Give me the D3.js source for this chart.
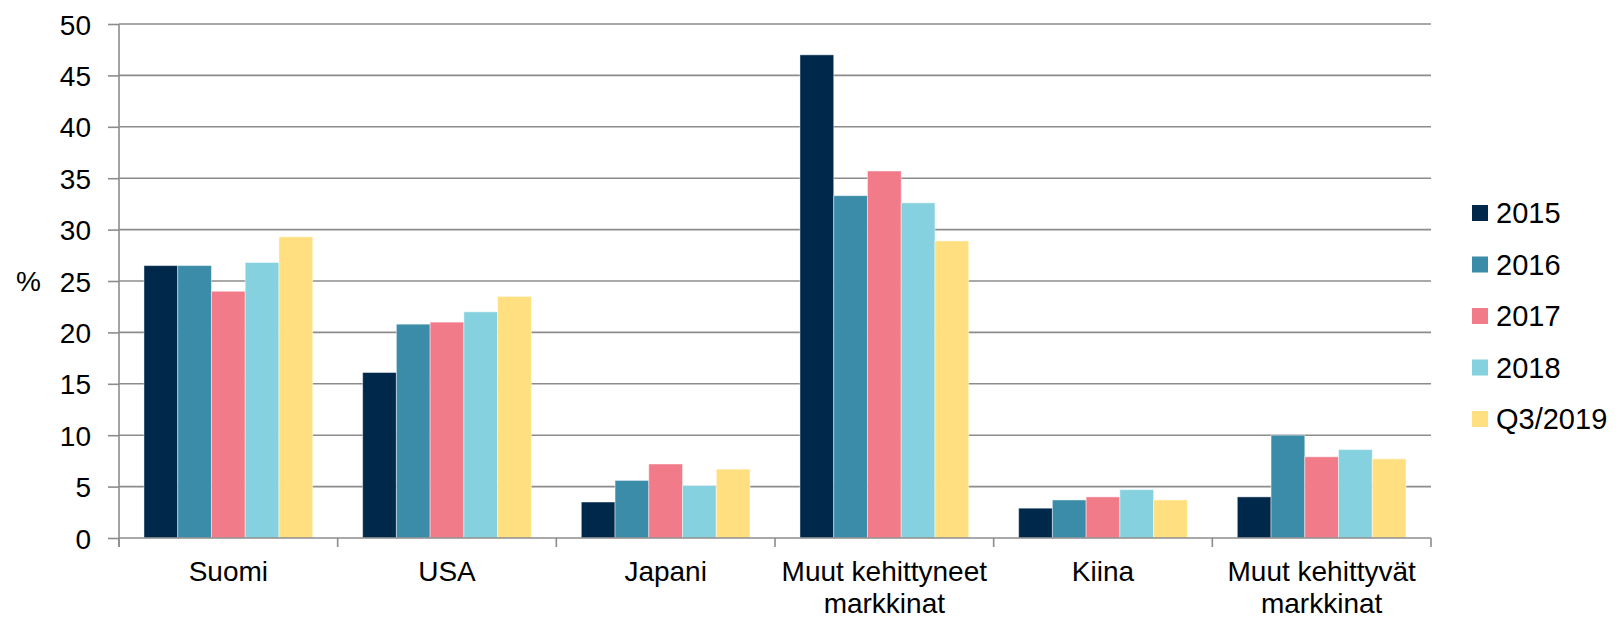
<!DOCTYPE html>
<html>
<head>
<meta charset="utf-8">
<script src="https://cdn.jsdelivr.net/npm/d3@7"></script>
<style>
  html, body { margin: 0; padding: 0; background: #ffffff; }
  svg { display: block; }
  text { font-family: "Liberation Sans", Arial, sans-serif; fill: #000; }
</style>
</head>
<body>
<svg id="chart" width="1622" height="619"></svg>
<script>
// Regions (two-line labels split with "\n")
const categories = ["Suomi", "USA", "Japani", "Muut kehittyneet\nmarkkinat", "Kiina", "Muut kehittyvät\nmarkkinat"];
const seriesNames = ["2015", "2016", "2017", "2018", "Q3/2019"];
const values2015 = [26.5, 16.1, 3.5, 47.0, 2.9, 4.0];
const values2016 = [26.5, 20.8, 5.6, 33.3, 3.7, 10.0];
const values2017 = [24.0, 21.0, 7.2, 35.7, 4.0, 7.9];
const values2018 = [26.8, 22.0, 5.1, 32.6, 4.7, 8.6];
const valuesQ32019 = [29.3, 23.5, 6.7, 28.9, 3.7, 7.7];
const yTicks = [0, 5, 10, 15, 20, 25, 30, 35, 40, 45, 50];
const seriesColors = ["#00284b", "#3a8ca8", "#f27b8a", "#85d1df", "#ffdf80"];

const series = [values2015, values2016, values2017, values2018, valuesQ32019];

const svg = d3.select("#chart");
const margin = { left: 119, right: 191, top: 24, bottom: 81 };
const W = 1622, H = 619;
const x0 = margin.left, x1 = W - margin.right;
const yTop = margin.top, yBottom = H - margin.bottom;

const x = d3.scaleBand().domain(categories).range([x0, x1]).paddingInner(0).paddingOuter(0);
const xInner = d3.scaleBand().domain(seriesNames).range([0, x.bandwidth()]).paddingInner(0).paddingOuter(0.74);
const y = d3.scaleLinear().domain([0, 50]).range([yBottom, yTop]);

// Horizontal gridlines
svg.append("g")
  .selectAll("line")
  .data(yTicks.filter(t => t > 0))
  .join("line")
  .attr("x1", x0).attr("x2", x1)
  .attr("y1", d => y(d)).attr("y2", d => y(d))
  .attr("stroke", "#8c8c8c").attr("stroke-width", 1.6);

// Bars
const groups = svg.append("g")
  .selectAll("g")
  .data(categories)
  .join("g")
  .attr("transform", d => `translate(${x(d)},0)`);

groups.selectAll("rect")
  .data((c, i) => seriesNames.map((s, j) => ({ s, j, v: series[j][i] })))
  .join("rect")
  .attr("x", d => xInner(d.s))
  .attr("width", xInner.bandwidth())
  .attr("y", d => y(d.v))
  .attr("height", d => y(0) - y(d.v))
  .attr("fill", d => seriesColors[d.j])
  .attr("stroke", "rgba(255,255,255,0.45)")
  .attr("stroke-width", 1);

// Y axis
const yAxis = d3.axisLeft(y).tickValues(yTicks).tickSize(11).tickPadding(17).tickFormat(d3.format("d"));
const gy = svg.append("g").attr("transform", `translate(${x0},0)`).call(yAxis);
gy.select(".domain").attr("stroke", "#8c8c8c").attr("stroke-width", 1.6)
  .attr("d", `M0,${yTop}V${yBottom + 9}`);
gy.selectAll(".tick line").attr("stroke", "#8c8c8c").attr("stroke-width", 1.6);
gy.selectAll(".tick text")
  .style("font-size", "28px")
  .style("font-family", "'Liberation Sans', Arial, sans-serif")
  .attr("fill", "#000")
  .attr("dy", "0.36em");

// X axis baseline and category boundary ticks
const gx = svg.append("g");
gx.append("line")
  .attr("x1", x0).attr("x2", x1)
  .attr("y1", yBottom).attr("y2", yBottom)
  .attr("stroke", "#8c8c8c").attr("stroke-width", 1.6);
const boundaries = categories.map(c => x(c)).concat([x1]);
gx.selectAll("line.bt")
  .data(boundaries)
  .join("line")
  .attr("class", "bt")
  .attr("x1", d => d).attr("x2", d => d)
  .attr("y1", yBottom).attr("y2", yBottom + 9)
  .attr("stroke", "#8c8c8c").attr("stroke-width", 1.6);

// Category labels
const lbl = svg.append("g").selectAll("text")
  .data(categories)
  .join("text")
  .attr("x", d => x(d) + x.bandwidth() / 2)
  .attr("y", 581)
  .attr("text-anchor", "middle")
  .style("font-size", "28px");
lbl.selectAll("tspan")
  .data(d => d.split("\n"))
  .join("tspan")
  .attr("x", function () { return d3.select(this.parentNode).attr("x"); })
  .attr("dy", (d, i) => i === 0 ? 0 : 32)
  .text(d => d);

// Y axis unit
svg.append("text")
  .attr("x", 16).attr("y", y(25))
  .attr("dy", "0.36em")
  .style("font-size", "28px")
  .text("%");

// Legend
const legend = svg.append("g").attr("transform", "translate(1472,213)");
const li = legend.selectAll("g")
  .data(seriesNames)
  .join("g")
  .attr("transform", (d, i) => `translate(0,${i * 51.5})`);
li.append("rect")
  .attr("x", 0).attr("y", -8)
  .attr("width", 16).attr("height", 16)
  .attr("fill", (d, i) => seriesColors[i]);
li.append("text")
  .attr("x", 24).attr("y", 0)
  .attr("dy", "0.36em")
  .style("font-size", "29px")
  .text(d => d);
</script>
</body>
</html>
